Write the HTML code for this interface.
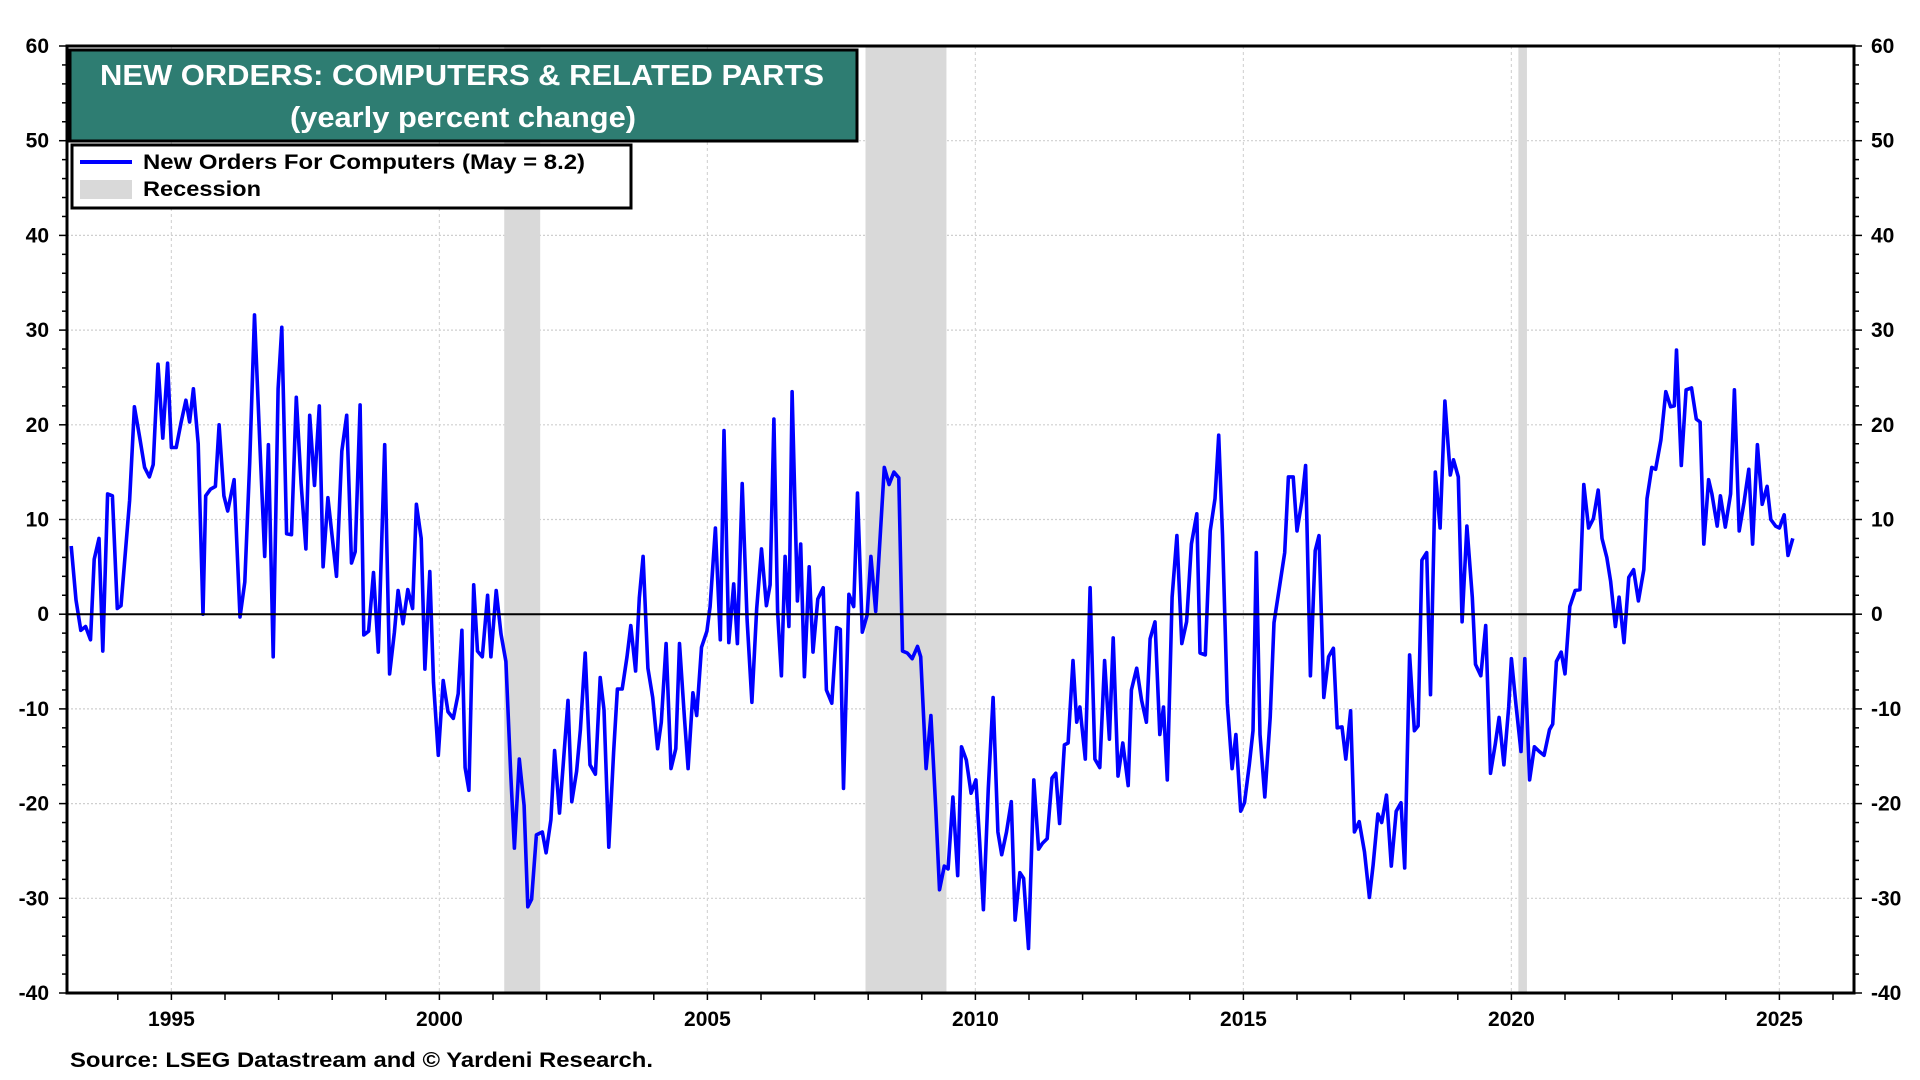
<!DOCTYPE html>
<html><head><meta charset="utf-8"><style>
html,body{margin:0;padding:0;background:#fff}
svg{display:block;font-family:"Liberation Sans",Arial,sans-serif;font-weight:bold}
</style></head><body>
<svg id="chart" width="1920" height="1080" viewBox="0 0 1920 1080" xmlns="http://www.w3.org/2000/svg">
<g id="grid"></g>
<g id="recessions"></g>
<g id="series"></g>
<g id="axes"></g>
<g>
<rect x="70" y="50" width="787" height="91" fill="#2e7d72" stroke="#000" stroke-width="3"/>
<text x="462" y="85" fill="#fff" font-size="29" text-anchor="middle" textLength="724" lengthAdjust="spacingAndGlyphs">NEW ORDERS: COMPUTERS &amp; RELATED PARTS</text>
<text x="463" y="127" fill="#fff" font-size="29" text-anchor="middle" textLength="346" lengthAdjust="spacingAndGlyphs">(yearly percent change)</text>
</g>
<g>
<rect x="72" y="145" width="559" height="63" fill="#fff" stroke="#000" stroke-width="3"/>
<g>
<line x1="80" y1="162" x2="132" y2="162" stroke="#0000ff" stroke-width="4"/>
<text x="143" y="169" font-size="21" textLength="442" lengthAdjust="spacingAndGlyphs">New Orders For Computers (May = 8.2)</text>
</g>
<g>
<rect x="80" y="180" width="52" height="19" fill="#d9d9d9"/>
<text x="143" y="196" font-size="21" textLength="118" lengthAdjust="spacingAndGlyphs">Recession</text>
</g>
</g>
<text x="70" y="1067" font-size="21" textLength="583" lengthAdjust="spacingAndGlyphs">Source: LSEG Datastream and © Yardeni Research.</text>
</svg>
<script>
const dates = [1993.13,1993.22,1993.31,1993.40,1993.49,1993.56,1993.65,1993.72,1993.81,1993.90,1993.99,1994.06,1994.22,1994.31,1994.41,1994.50,1994.59,1994.66,1994.75,1994.84,1994.93,1995.00,1995.09,1995.18,1995.27,1995.34,1995.41,1995.50,1995.59,1995.64,1995.73,1995.82,1995.89,1995.98,1996.05,1996.17,1996.28,1996.37,1996.46,1996.55,1996.65,1996.74,1996.81,1996.90,1996.99,1997.06,1997.15,1997.24,1997.33,1997.42,1997.51,1997.58,1997.67,1997.76,1997.83,1997.92,1998.02,1998.08,1998.18,1998.27,1998.36,1998.43,1998.52,1998.59,1998.68,1998.77,1998.86,1998.98,1999.07,1999.16,1999.23,1999.32,1999.41,1999.50,1999.57,1999.66,1999.73,1999.82,1999.89,1999.98,2000.07,2000.16,2000.26,2000.35,2000.42,2000.48,2000.55,2000.64,2000.71,2000.80,2000.90,2000.96,2001.06,2001.15,2001.24,2001.33,2001.40,2001.49,2001.58,2001.65,2001.72,2001.81,2001.92,2001.99,2002.08,2002.15,2002.24,2002.31,2002.40,2002.47,2002.56,2002.63,2002.72,2002.81,2002.91,2003.00,2003.07,2003.16,2003.25,2003.32,2003.41,2003.50,2003.57,2003.66,2003.73,2003.80,2003.89,2003.98,2004.07,2004.14,2004.23,2004.32,2004.41,2004.48,2004.57,2004.64,2004.73,2004.80,2004.89,2004.99,2005.05,2005.15,2005.24,2005.31,2005.40,2005.49,2005.56,2005.65,2005.74,2005.83,2005.92,2006.01,2006.10,2006.17,2006.24,2006.31,2006.38,2006.45,2006.52,2006.58,2006.68,2006.74,2006.81,2006.90,2006.97,2007.06,2007.16,2007.22,2007.32,2007.41,2007.48,2007.54,2007.64,2007.73,2007.80,2007.89,2007.98,2008.05,2008.14,2008.23,2008.30,2008.39,2008.48,2008.57,2008.64,2008.73,2008.82,2008.92,2008.98,2009.08,2009.17,2009.26,2009.33,2009.42,2009.49,2009.58,2009.67,2009.74,2009.83,2009.92,2010.01,2010.08,2010.15,2010.24,2010.33,2010.42,2010.49,2010.58,2010.67,2010.74,2010.83,2010.90,2010.99,2011.09,2011.18,2011.25,2011.34,2011.43,2011.50,2011.57,2011.66,2011.73,2011.82,2011.89,2011.95,2012.05,2012.14,2012.23,2012.32,2012.41,2012.50,2012.57,2012.66,2012.75,2012.85,2012.91,2013.01,2013.10,2013.19,2013.26,2013.35,2013.44,2013.51,2013.58,2013.67,2013.76,2013.85,2013.94,2014.03,2014.13,2014.19,2014.29,2014.38,2014.47,2014.54,2014.61,2014.70,2014.79,2014.86,2014.95,2015.02,2015.11,2015.18,2015.24,2015.31,2015.40,2015.50,2015.57,2015.68,2015.77,2015.84,2015.93,2016.00,2016.09,2016.16,2016.25,2016.34,2016.41,2016.50,2016.59,2016.68,2016.75,2016.84,2016.91,2017.00,2017.07,2017.16,2017.26,2017.35,2017.42,2017.51,2017.58,2017.67,2017.76,2017.85,2017.94,2018.01,2018.10,2018.19,2018.26,2018.33,2018.42,2018.49,2018.58,2018.67,2018.76,2018.86,2018.92,2019.01,2019.08,2019.17,2019.27,2019.33,2019.43,2019.52,2019.61,2019.70,2019.77,2019.86,2019.95,2020.00,2020.09,2020.18,2020.25,2020.34,2020.43,2020.52,2020.61,2020.71,2020.77,2020.84,2020.93,2021.00,2021.09,2021.19,2021.28,2021.35,2021.44,2021.53,2021.62,2021.69,2021.78,2021.85,2021.94,2022.01,2022.10,2022.19,2022.28,2022.37,2022.47,2022.53,2022.62,2022.69,2022.79,2022.88,2022.97,2023.04,2023.08,2023.17,2023.26,2023.36,2023.45,2023.52,2023.59,2023.68,2023.74,2023.84,2023.90,2023.99,2024.09,2024.16,2024.25,2024.34,2024.43,2024.50,2024.59,2024.68,2024.77,2024.84,2024.93,2025.00,2025.09,2025.16,2025.25];
const values = [7.2,1.5,-1.7,-1.3,-2.7,5.8,8,-3.9,12.7,12.5,0.6,0.9,12,21.9,18.6,15.5,14.5,15.8,26.4,18.6,26.5,17.6,17.6,20.2,22.6,20.3,23.8,18,0,12.5,13.2,13.5,20,12.5,10.9,14.2,-0.3,3.4,16,31.6,18.1,6.1,17.9,-4.5,23.8,30.3,8.5,8.4,22.9,13.8,6.9,21,13.6,22,5,12.3,7.1,4,17.2,21,5.4,6.6,22.1,-2.2,-1.8,4.4,-4,17.9,-6.3,-1.9,2.5,-1,2.6,0.6,11.6,8,-5.8,4.5,-7.2,-14.9,-7,-10.3,-11,-8.4,-1.7,-16.2,-18.6,3.1,-3.9,-4.5,2,-4.5,2.5,-2.1,-5,-16.8,-24.7,-15.3,-20.2,-30.9,-30.1,-23.3,-23,-25.2,-21.7,-14.4,-21,-15.9,-9.1,-19.8,-16.6,-12.2,-4.1,-15.9,-16.9,-6.7,-10.1,-24.6,-14.6,-7.9,-7.9,-4.5,-1.2,-6,1.7,6.1,-5.7,-8.8,-14.2,-11.4,-3.1,-16.3,-14.2,-3.1,-10.9,-16.3,-8.3,-10.7,-3.5,-1.8,0.8,9.1,-2.7,19.4,-3,3.2,-3.1,13.8,-0.6,-9.3,0.6,6.9,0.9,3.1,20.6,0.3,-6.5,6.1,-1.3,23.5,1.4,7.4,-6.6,5,-4,1.6,2.8,-8,-9.4,-1.4,-1.6,-18.4,2.1,0.8,12.8,-1.9,-0.1,6.1,0.3,8.8,15.5,13.7,15,14.4,-3.9,-4.1,-4.7,-3.4,-4.5,-16.3,-10.7,-20.4,-29.1,-26.6,-26.9,-19.3,-27.6,-14,-15.4,-18.9,-17.5,-24.1,-31.2,-18.4,-8.8,-23,-25.4,-23,-19.8,-32.3,-27.3,-27.9,-35.3,-17.5,-24.8,-24.2,-23.7,-17.3,-16.8,-22.1,-13.8,-13.6,-4.9,-11.4,-9.8,-15.3,2.8,-15.3,-16.2,-4.9,-13.2,-2.5,-17.1,-13.6,-18.1,-8,-5.7,-9.1,-11.4,-2.6,-0.8,-12.7,-9.8,-17.5,1.8,8.3,-3.1,-0.8,7.4,10.6,-4.1,-4.3,8.8,12.2,18.9,8.4,-9.4,-16.3,-12.7,-20.8,-19.9,-15.9,-12.3,6.5,-12.7,-19.3,-10.9,-0.9,3.1,6.5,14.5,14.5,8.8,11.9,15.7,-6.5,6.7,8.3,-8.8,-4.5,-3.6,-12,-11.9,-15.3,-10.2,-23,-21.9,-25.1,-29.9,-26.5,-21.1,-22,-19.1,-26.6,-20.8,-19.9,-26.8,-4.3,-12.3,-11.8,5.7,6.5,-8.5,15,9.1,22.5,14.7,16.3,14.5,-0.8,9.3,1.8,-5.3,-6.5,-1.2,-16.8,-13.7,-10.9,-15.9,-9.8,-4.7,-9.8,-14.5,-4.7,-17.5,-14,-14.5,-14.9,-12.2,-11.6,-5,-4,-6.3,0.8,2.5,2.6,13.7,9.1,10.1,13.1,8,6,3.5,-1.3,1.8,-3,3.9,4.7,1.4,4.7,12.2,15.5,15.3,18.4,23.5,21.9,22,27.9,15.7,23.7,23.9,20.6,20.3,7.4,14.2,12.7,9.3,12.5,9.2,12.7,23.7,8.8,11.8,15.3,7.4,17.9,11.6,13.5,10,9.3,9.1,10.5,6.2,8];
const recessionStarts = [2001.21, 2007.95, 2020.13];
const recessionEnds = [2001.88, 2009.46, 2020.29];
const yTicks = [60, 50, 40, 30, 20, 10, 0, -10, -20, -30, -40];
const xTickYears = [1995, 2000, 2005, 2010, 2015, 2020, 2025];

const NS = "http://www.w3.org/2000/svg";
const L = 67, R = 1854, T = 46, B = 993;
const yMin = -40, yMax = 60;
const x0Year = 1995, pxPerYear = 53.6, x0 = 171.4;
function xs(yr){ return x0 + (yr - x0Year) * pxPerYear; }
function ys(v){ return B - (v - yMin) / (yMax - yMin) * (B - T); }
function mk(tag, attrs, parent){ const e = document.createElementNS(NS, tag); for (const k in attrs) e.setAttribute(k, attrs[k]); parent.appendChild(e); return e; }

const grid = document.getElementById('grid');
const rec = document.getElementById('recessions');
const ser = document.getElementById('series');
const axes = document.getElementById('axes');

// gridlines
yTicks.forEach(v => {
  if (v === yMin || v === yMax || v === 0) return;
  const g = mk('line', {x1:L, x2:R, y1:ys(v), y2:ys(v), stroke:'#cfcfcf', 'stroke-width':1.2, 'stroke-dasharray':'2,2'}, grid);
  
  
});
xTickYears.forEach(yr => {
  const g = mk('line', {x1:xs(yr), x2:xs(yr), y1:T, y2:B, stroke:'#d6d6d6', 'stroke-width':1.2, 'stroke-dasharray':'3,3'}, grid);
  
  
});

// recession bands
recessionStarts.forEach((s, i) => {
  const r = mk('rect', {x:xs(s), y:T, width:xs(recessionEnds[i]) - xs(s), height:B - T, fill:'#d9d9d9'}, rec);
  
  
});

// zero line
const z = mk('line', {x1:L, x2:R, y1:ys(0), y2:ys(0), stroke:'#000', 'stroke-width':2}, axes);



// series
let d = '';
dates.forEach((t, i) => { d += (i ? 'L' : 'M') + xs(t).toFixed(1) + ',' + ys(values[i]).toFixed(1); });
const p = mk('path', {d:d, fill:'none', stroke:'#0000ff', 'stroke-width':3.6, 'stroke-linejoin':'round'}, ser);



// frame
const f = mk('rect', {x:L, y:T, width:R - L, height:B - T, fill:'none', stroke:'#000', 'stroke-width':3}, axes);



// y minor ticks
for (let v = yMin; v <= yMax; v += 2) {
  const len = (v % 10 === 0) ? 8 : 5;
  mk('line', {x1:L - len, x2:L, y1:ys(v), y2:ys(v), stroke:'#000', 'stroke-width':1.5}, axes);
  mk('line', {x1:R, x2:R + len, y1:ys(v), y2:ys(v), stroke:'#000', 'stroke-width':1.5}, axes);
}
yTicks.forEach(v => {
  const tl = mk('text', {x:49, y:ys(v) + 7, 'font-size':21, 'text-anchor':'end'}, axes);
  tl.textContent = String(v);
  
  
  const tr = mk('text', {x:1871, y:ys(v) + 7, 'font-size':21, 'text-anchor':'start'}, axes);
  tr.textContent = String(v);
  
  
});
// x ticks (yearly)
for (let yr = 1994; yr <= 2026; yr++) {
  const xx = xs(yr);
  if (xx < L || xx > R) continue;
  mk('line', {x1:xx, x2:xx, y1:B, y2:B + 7, stroke:'#000', 'stroke-width':1.5}, axes);
}
xTickYears.forEach(yr => {
  const t = mk('text', {x:xs(yr), y:1026, 'font-size':21, 'text-anchor':'middle'}, axes);
  t.textContent = String(yr);
  
  
});
</script>
</body></html>
